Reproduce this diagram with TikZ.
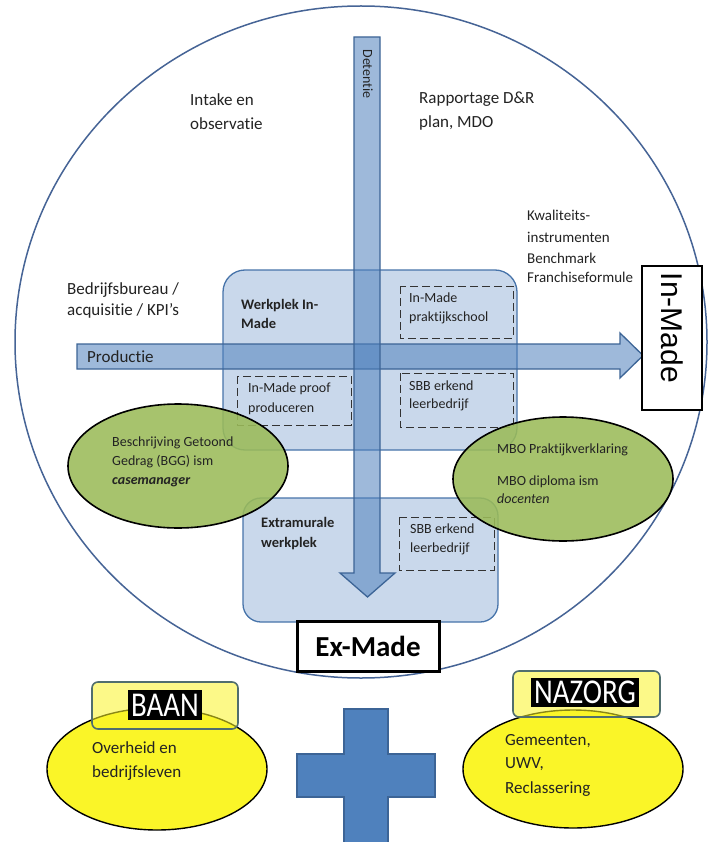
\documentclass[tikz,border=0pt]{standalone}
\usepackage{fontspec}
\setmainfont{Carlito}[Ligatures=NoCommon]
\newfontfamily\arialfont{Liberation Sans}
\usetikzlibrary{shapes.geometric}
\definecolor{ablue}{RGB}{79,129,189}
\definecolor{bdark}{RGB}{60,100,150}
\definecolor{circ}{RGB}{70,100,150}
\definecolor{ggreen}{RGB}{155,187,89}
\definecolor{yel}{RGB}{250,245,40}
\definecolor{txt}{RGB}{35,35,35}
\definecolor{ybord}{RGB}{80,110,110}
\begin{document}
\begin{tikzpicture}[x=1pt,y=-1pt,
  lbl/.style={anchor=base west,inner sep=0pt,text=txt,font=\fontsize{17}{20}\selectfont},
  md/.style={lbl,font=\fontsize{15}{18}\selectfont},
  sm/.style={lbl,font=\fontsize{14}{17}\selectfont},
  smb/.style={lbl,font=\bfseries\fontsize{14.5}{17}\selectfont},
  bluebox/.style={draw=ablue!90!black,line width=1.3pt,fill=ablue,fill opacity=0.3},
  arrowst/.style={draw=bdark,line width=1.3pt,fill=ablue,fill opacity=0.55},
  dashbox/.style={draw=black!80,line width=1pt,dash pattern=on 8pt off 4pt},
  gell/.style={draw=black,line width=1.6pt,fill=ggreen,fill opacity=0.88},
  yell/.style={draw=black,line width=1.4pt,fill=yel},
  ybox/.style={draw=ybord,line width=1.6pt,rounded corners=6pt,fill=yel,fill opacity=0.55},
  blk/.style={fill=black,text=white,inner sep=0pt,font=\fontsize{29}{30}\selectfont},
  crossst/.style={draw=bdark,line width=1.2pt,fill=ablue}
]
\useasboundingbox (0,0) rectangle (708,842);
\fill[white] (0,0) rectangle (708,842);

% big circle
\draw[circ,line width=1.5pt] (361,342) ellipse [x radius=346,y radius=336];

% blue boxes
\draw[bluebox,rounded corners=22pt] (223,270) rectangle (517,450);
\draw[bluebox,rounded corners=18pt] (243,498) rectangle (498,622);

% arrows
\draw[arrowst] (77,344) -- (620,344) -- (620,333) -- (643,355.5) -- (620,378) -- (620,369) -- (77,369) -- cycle;
\draw[arrowst] (354,37) -- (380,37) -- (380,573) -- (395,573) -- (367.5,597) -- (340,573) -- (354,573) -- cycle;

% dashed boxes
\draw[dashbox] (400,286) rectangle (513,338);
\draw[dashbox] (400,373) rectangle (513,427);
\draw[dashbox] (237,376) rectangle (351,425);
\draw[dashbox] (399,517) rectangle (494,570);

% top labels
\node[lbl] (intake1) at (190,106) {Intake en};
\node[lbl] (intake2) at (190,130) {observatie};
\node[lbl] (rapp1) at (419,104) {Rapportage D\&R};
\node[lbl] (rapp2) at (419,128) {plan, MDO};
\node[md] (kw1) at (527,221) {Kwaliteits-};
\node[md] (kw2) at (527,242) {instrumenten};
\node[md] (kw3) at (527,263) {Benchmark};
\node[md] (kw4) at (527,282) {Franchiseformule};
\node[lbl] (bb1) at (67,294) {Bedrijfsbureau /};
\node[lbl] (bb2) at (67,315) {acquisitie / KPI’s};
\node[lbl] (prod) at (87,362) {Productie};
\node[rotate=-90,inner sep=0pt,text=txt,font=\fontsize{14}{14}\selectfont] (det) at (368,74) {Detentie};

% box texts
\node[smb] (wp1) at (241,309) {Werkplek In-};
\node[smb] (wp2) at (241,328) {Made};
\node[sm] (ip1) at (409,302) {In-Made};
\node[sm] (ip2) at (409,321) {praktijkschool};
\node[sm] (sa1) at (409,390) {SBB erkend};
\node[sm] (sa2) at (409,408) {leerbedrijf};
\node[sm] (pr1) at (248,392) {In-Made proof};
\node[sm] (pr2) at (248,412) {produceren};
\node[smb] (ex1) at (261,527) {Extramurale};
\node[smb] (ex2) at (261,547) {werkplek};
\node[sm] (sb1) at (410,533) {SBB erkend};
\node[sm] (sb2) at (410,552) {leerbedrijf};

% green ellipses
\draw[gell] (178,466) ellipse [x radius=110,y radius=62];
\draw[gell] (563,479) ellipse [x radius=110,y radius=62];
\node[sm] (g1a) at (112,446) {Beschrijving Getoond};
\node[sm] (g1b) at (112,465) {Gedrag (BGG) ism};
\node[sm,font=\bfseries\itshape\fontsize{14}{17}\selectfont] (g1c) at (112,484) {casemanager};
\node[sm] (g2a) at (497,453) {MBO Praktijkverklaring};
\node[sm] (g2b) at (497,485) {MBO diploma ism};
\node[sm,font=\itshape\fontsize{14}{17}\selectfont] (g2c) at (497,503) {docenten};

% In-Made and Ex-Made boxes
\node[draw=black,line width=2.5pt,fill=white,minimum width=60pt,minimum height=144pt,inner sep=0pt] (inmadebox) at (672,338) {};
\node[rotate=-90,inner sep=0pt,font=\arialfont\fontsize{30}{30}\selectfont] (inmade) at (672.5,328) {In-Made};
\node[draw=black,line width=3pt,fill=white,minimum width=142pt,minimum height=50pt,inner sep=0pt,font=\bfseries\fontsize{29}{30}\selectfont] (exmade) at (368,646) {Ex-Made};

% bottom: BAAN
\draw[yell] (157,769) ellipse [x radius=110,y radius=61];
\draw[ybox] (92,682) rectangle (238,729);
\node[blk,minimum width=74pt,minimum height=30pt] (baan) at (165,705) {\scalebox{1}[1.2]{BAAN}};
\node[lbl] (y1a) at (92,753) {Overheid en};
\node[lbl] (y1b) at (92,777) {bedrijfsleven};

% bottom: NAZORG
\draw[yell] (573,769) ellipse [x radius=110,y radius=59];
\draw[ybox] (513,671) rectangle (660,717);
\node[blk,minimum width=108pt,minimum height=29pt] (nazorg) at (585,692.5) {\scalebox{1}[1.2]{NAZORG}};
\node[lbl] (y2a) at (505,745) {Gemeenten,};
\node[lbl] (y2b) at (505,768) {UWV,};
\node[lbl] (y2c) at (505,793) {Reclassering};

% cross
\draw[crossst] (344,709) -- (388,709) -- (388,754) -- (435,754) -- (435,797) -- (388,797) -- (388,844) -- (344,844) -- (344,797) -- (297,797) -- (297,754) -- (344,754) -- cycle;
\end{tikzpicture}
\end{document}
